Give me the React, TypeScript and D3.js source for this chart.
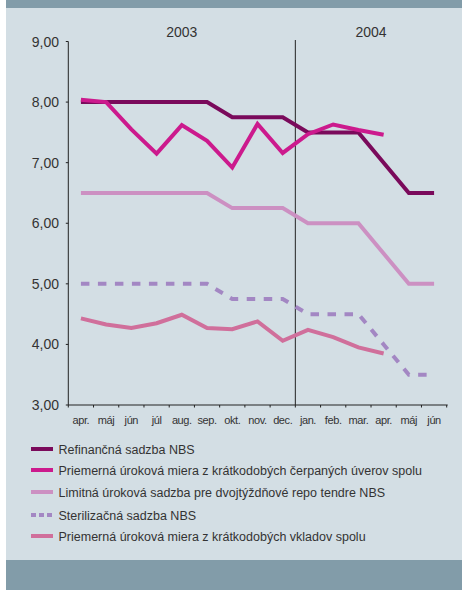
import React from "react";
import * as d3 from "d3";

const months = ["apr.", "máj", "jún", "júl", "aug.", "sep.", "okt.", "nov.", "dec.", "jan.", "feb.", "mar.", "apr.", "máj", "jún"];
const yTicks = [3, 4, 5, 6, 7, 8, 9];
const years = [
  { label: "2003", from: 0, to: 9 },
  { label: "2004", from: 9, to: 15 },
];

const refinancna = [8, 8, 8, 8, 8, 8, 7.75, 7.75, 7.75, 7.5, 7.5, 7.5, 7.0, 6.5, 6.5];
const uvery = [8.04, 8.0, 7.55, 7.15, 7.62, 7.36, 6.92, 7.64, 7.16, 7.47, 7.63, 7.54, 7.46];
const limitna = [6.5, 6.5, 6.5, 6.5, 6.5, 6.5, 6.25, 6.25, 6.25, 6.0, 6.0, 6.0, 5.5, 5.0, 5.0];
const sterilizacna = [5, 5, 5, 5, 5, 5, 4.75, 4.75, 4.75, 4.5, 4.5, 4.5, 4.0, 3.5, 3.5];
const vklady = [4.43, 4.33, 4.27, 4.35, 4.49, 4.27, 4.25, 4.38, 4.06, 4.24, 4.12, 3.95, 3.85];

const series = [
  { name: "Refinančná sadzba NBS", values: refinancna, color: "#7a0a5b", dash: null },
  { name: "Priemerná úroková miera z krátkodobých čerpaných úverov spolu", values: uvery, color: "#cc1a8d", dash: null },
  { name: "Limitná úroková sadzba pre dvojtýždňové repo tendre NBS", values: limitna, color: "#cc90c2", dash: null },
  { name: "Sterilizačná sadzba NBS", values: sterilizacna, color: "#a387c3", dash: "8.5,8.5" },
  { name: "Priemerná úroková miera z krátkodobých vkladov spolu", values: vklady, color: "#d06f9b", dash: null },
];
const drawOrder = [2, 3, 4, 0, 1];

export default function App() {
  const W = 462, H = 590;
  const x0 = 68.3, x1 = 446.7, yTop = 41.5, yBot = 405;
  const x = d3.scaleBand<number>().domain(d3.range(months.length)).range([x0, x1]);
  const y = d3.scaleLinear().domain([3, 9]).range([yBot, yTop]);
  const cx = (i: number) => (x(i) as number) + x.bandwidth() / 2;
  const line = d3.line<number>().x((_, i) => cx(i)).y((v) => y(v));
  const font = "'Liberation Sans', Arial, sans-serif";
  const txt = "#333";

  return (
    <svg width={W} height={H} style={{ position: "absolute", left: 0, top: 0 }} fontFamily={font}>
      <rect x={0} y={0} width={W} height={H} fill="#ffffff" />
      <rect x={6} y={0} width={W - 6} height={H} fill="#d3dee4" />
      <rect x={6} y={0} width={W - 6} height={8} fill="#829ca9" />
      <rect x={6} y={560} width={W - 6} height={30} fill="#829ca9" />

      {years.map((yr) => (
        <text key={yr.label} x={((x(yr.from) as number) + (yr.to >= months.length ? x1 : (x(yr.to) as number))) / 2}
          y={37} textAnchor="middle" fontSize={14} fill={txt}>{yr.label}</text>
      ))}

      {/* y axis */}
      <line x1={x0} x2={x0} y1={yTop} y2={yBot} stroke="#222" strokeWidth={1} />
      {yTicks.map((t) => (
        <g key={t}>
          <line x1={x0 - 2.5} x2={x0} y1={y(t)} y2={y(t)} stroke="#222" strokeWidth={1} />
          <text x={59} y={y(t) + 5} textAnchor="end" fontSize={14} fill={txt}>{d3.format(".2f")(t).replace(".", ",")}</text>
        </g>
      ))}

      {/* x axis */}
      <line x1={x0} x2={x1 + 1} y1={yBot} y2={yBot} stroke="#222" strokeWidth={1} />
      {d3.range(months.length + 1).map((i) => {
        const xx = i < months.length ? (x(i) as number) : x1;
        return <line key={i} x1={xx} x2={xx} y1={yBot} y2={yBot + 2.5} stroke="#222" strokeWidth={1} />;
      })}
      {months.map((m, i) => (
        <text key={i} x={cx(i)} y={424} textAnchor="middle" fontSize={11} letterSpacing={-0.4} fill={txt}>{m}</text>
      ))}

      {/* year separator */}
      <line x1={x(9) as number} x2={x(9) as number} y1={40} y2={yBot} stroke="#222" strokeWidth={1} />

      {drawOrder.map((k) => {
        const s = series[k];
        return (
          <path key={k} d={line(s.values) || ""} fill="none" stroke={s.color} strokeWidth={4}
            strokeDasharray={s.dash || undefined} strokeLinejoin="miter" />
        );
      })}

      {/* legend */}
      {series.map((s, i) => {
        const ly = [449, 470, 492, 515, 536][i];
        return (
          <g key={s.name}>
            <line x1={31} x2={53} y1={ly} y2={ly} stroke={s.color} strokeWidth={4}
              strokeDasharray={s.dash ? "5,3" : undefined} />
            <text x={58.5} y={ly + 4.5} fontSize={12.5} fill={txt}>{s.name}</text>
          </g>
        );
      })}
    </svg>
  );
}
